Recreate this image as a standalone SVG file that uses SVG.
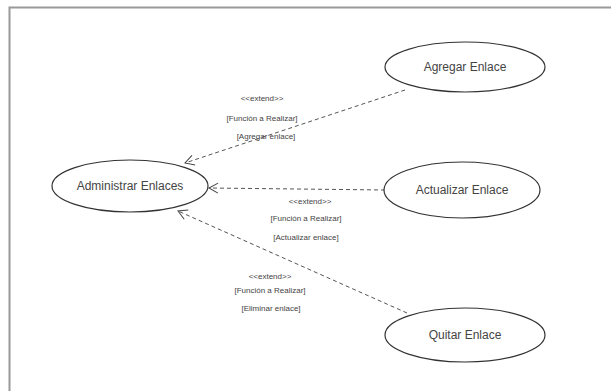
<svg xmlns="http://www.w3.org/2000/svg" width="611" height="391" viewBox="0 0 611 391">
<defs>
<marker id="arr" markerWidth="12" markerHeight="12" refX="10" refY="6" orient="auto" markerUnits="userSpaceOnUse">
<path d="M1,1 L10,6 L1,11" fill="none" stroke="#444" stroke-width="1"/>
</marker>
<style>
.uc{fill:#fff;stroke:#333;stroke-width:1.2}
.ut{font-family:"Liberation Sans",Arial,sans-serif;font-size:12px;fill:#444;text-anchor:middle}
.lb{font-family:"Liberation Sans",Arial,sans-serif;font-size:8px;fill:#444;text-anchor:middle}
.cn{fill:none;stroke:#555;stroke-width:1;stroke-dasharray:4,3}
</style>
</defs>
<rect width="611" height="391" fill="#fff"/>
<path d="M9.5,391 V7.5 H611" fill="none" stroke="#999" stroke-width="2"/>
<g id="connectors">
<path class="cn" d="M405,90 L185,163" marker-end="url(#arr)"/>
<path class="cn" d="M385,190 L209,188" marker-end="url(#arr)"/>
<path class="cn" d="M407,313 L178,211" marker-end="url(#arr)"/>
<text class="lb" x="262" y="101">&lt;&lt;extend&gt;&gt;</text>
<text class="lb" x="262" y="121">[Función a Realizar]</text>
<text class="lb" x="266" y="139">[Agregar enlace]</text>
<text class="lb" x="310" y="204">&lt;&lt;extend&gt;&gt;</text>
<text class="lb" x="306" y="221">[Función a Realizar]</text>
<text class="lb" x="306" y="240">[Actualizar enlace]</text>
<text class="lb" x="270" y="279">&lt;&lt;extend&gt;&gt;</text>
<text class="lb" x="270" y="293">[Función a Realizar]</text>
<text class="lb" x="271" y="311">[Eliminar enlace]</text>
</g>
<g id="administrar">
<ellipse class="uc" cx="130" cy="186" rx="78" ry="26"/>
<text class="ut" x="130" y="190">Administrar Enlaces</text>
</g>
<g id="agregar">
<ellipse class="uc" cx="465" cy="67" rx="80" ry="25"/>
<text class="ut" x="465" y="71">Agregar Enlace</text>
</g>
<g id="actualizar">
<ellipse class="uc" cx="462" cy="190" rx="78" ry="28"/>
<text class="ut" x="462" y="194">Actualizar Enlace</text>
</g>
<g id="quitar">
<ellipse class="uc" cx="465" cy="335" rx="80" ry="27"/>
<text class="ut" x="465" y="339">Quitar Enlace</text>
</g>
</svg>
